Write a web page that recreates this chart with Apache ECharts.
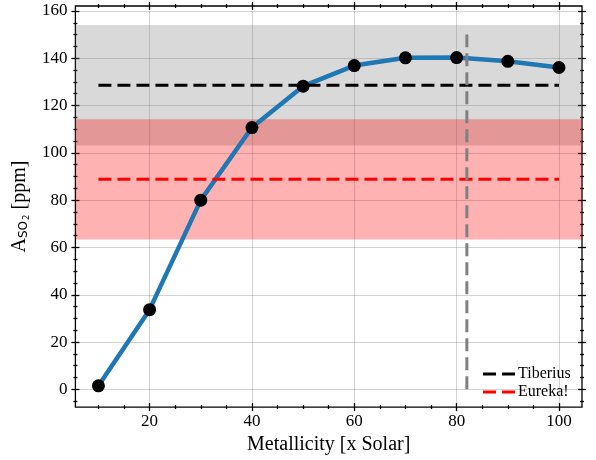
<!DOCTYPE html>
<html>
<head>
<meta charset="utf-8">
<script src="https://cdn.jsdelivr.net/npm/echarts@6/dist/echarts.min.js"></script>
<style>
  html, body { margin: 0; padding: 0; background: #fff; }
  #chart { width: 596px; height: 460px; }
</style>
</head>
<body>
<div id="chart"></div>
<script>
// Modelled SO2 abundance versus atmospheric metallicity
const metallicity = [10, 20, 30, 40, 50, 60, 70, 80, 90, 100];
const so2Abundance = [1.5, 33.7, 80.0, 110.7, 128.2, 136.9, 140.2, 140.3, 138.7, 136.1];

// Retrieved abundances from the two reductions (level and 1-sigma width)
const fitNames = ['Tiberius', 'Eureka!'];
const fitLevels = [128.6, 88.8];
const fitErrors = [25.5, 25.4];
const fitSpan = [10, 100];

// Best-fitting metallicity marker
const bestMetallicity = 82;
const bestSpan = [0, 150];

// Axis ranges and ticks
const xRange = [5.5, 104.5];
const yRange = [-7.5, 162.1];
const xMajor = [20, 40, 60, 80, 100];
const xMinor = [10, 15, 25, 30, 35, 45, 50, 55, 65, 70, 75, 85, 90, 95];
const yMajor = [0, 20, 40, 60, 80, 100, 120, 140, 160];
const yMinor = [-5, 5, 10, 15, 25, 30, 35, 45, 50, 55, 65, 70, 75, 85, 90, 95,
                105, 110, 115, 125, 130, 135, 145, 150, 155];

const SERIF = 'Liberation Serif';
const TICK = { color: '#000', width: 1.3 };
const DASH = [13, 6];
// two dashes, as drawn in the legend key
const DASH_ICON = 'path://M0,0h13v3h-13z M19,0h13v3h-13z';

function tickAxis(kind, pos, values, major, extra) {
  const range = kind === 'x' ? xRange : yRange;
  return Object.assign({
    type: 'value',
    position: pos,
    min: range[0],
    max: range[1],
    offset: major ? 4 : 2,
    axisLine: { show: false, onZero: false },
    axisTick: { show: true, inside: true, length: major ? 8 : 4, customValues: values, lineStyle: TICK },
    axisLabel: { show: false },
    splitLine: { show: false }
  }, extra || {});
}

const chart = echarts.init(document.getElementById('chart'), null, { renderer: 'canvas' });

const series = [];

// shaded 1-sigma bands, grey first and red on top
const bandColors = ['rgba(128,128,128,0.3)', 'rgba(255,0,0,0.3)'];
fitNames.forEach((name, i) => {
  series.push({
    name: name + ' band',
    type: 'line',
    data: [],
    z: 1,
    markArea: {
      silent: true,
      itemStyle: { color: bandColors[i], borderWidth: 0 },
      data: [[{ yAxis: fitLevels[i] - fitErrors[i] }, { yAxis: fitLevels[i] + fitErrors[i] }]]
    }
  });
});

// model curve
series.push({
  name: 'model',
  type: 'line',
  data: metallicity.map((m, i) => [m, so2Abundance[i]]),
  symbol: 'none',
  lineStyle: { color: '#1f77b4', width: 4.5 },
  z: 2
});

// retrieved levels
const fitLineColors = ['#000000', '#ff0000'];
fitNames.forEach((name, i) => {
  series.push({
    name: name,
    type: 'line',
    data: fitSpan.map(x => [x, fitLevels[i]]),
    symbol: 'none',
    itemStyle: { color: fitLineColors[i] },
    lineStyle: { color: fitLineColors[i], width: 3, type: DASH },
    z: 3
  });
});

// best metallicity
series.push({
  name: 'best',
  type: 'line',
  data: bestSpan.map(y => [bestMetallicity, y]),
  symbol: 'none',
  lineStyle: { color: '#808080', width: 3, type: DASH },
  z: 4
});

// model grid points
series.push({
  name: 'points',
  type: 'scatter',
  data: metallicity.map((m, i) => [m, so2Abundance[i]]),
  symbol: 'circle',
  symbolSize: 13,
  itemStyle: { color: '#000', opacity: 1 },
  z: 5
});

const gridLine = { show: true, lineStyle: { color: 'rgba(128,128,128,0.35)', width: 1 } };

const option = {
  animation: false,
  backgroundColor: '#fff',
  grid: {
    left: 73, right: 14, top: 6, bottom: 48.7,
    show: true, borderColor: '#000', borderWidth: 1.3, backgroundColor: 'transparent'
  },
  legend: {
    data: fitNames.map(n => ({ name: n, icon: DASH_ICON })),
    orient: 'vertical',
    left: 483,
    top: 366,
    padding: 0,
    itemWidth: 32,
    itemHeight: 3,
    itemGap: 2,
    itemStyle: { borderWidth: 0 },
    textStyle: { fontFamily: SERIF, fontSize: 16, color: '#000', lineHeight: 16, padding: [0, 0, 0, -2] },
    selectedMode: false
  },
  xAxis: [
    tickAxis('x', 'bottom', xMajor, true, {
      axisLabel: { show: true, customValues: xMajor, margin: 2, fontFamily: SERIF, fontSize: 17, color: '#000' },
      splitLine: gridLine,
      name: 'Metallicity [x Solar]',
      nameLocation: 'middle',
      nameGap: 13,
      nameTextStyle: { fontFamily: SERIF, fontSize: 20, color: '#000' }
    }),
    tickAxis('x', 'bottom', xMinor, false),
    tickAxis('x', 'top', xMajor, true),
    tickAxis('x', 'top', xMinor, false)
  ],
  yAxis: [
    tickAxis('y', 'left', yMajor, true, {
      axisLabel: { show: true, customValues: yMajor, margin: 4, fontFamily: SERIF, fontSize: 17, color: '#000' },
      splitLine: gridLine,
      name: '{a|A}{so|SO}{two|2}{a| [ppm]}',
      nameLocation: 'middle',
      nameRotate: 90,
      nameGap: 28,
      nameTextStyle: {
        fontFamily: SERIF, fontSize: 20, color: '#000',
        rich: {
          a: { fontFamily: SERIF, fontSize: 20, color: '#000', lineHeight: 22 },
          so: { fontFamily: 'DejaVu Sans', fontSize: 12, color: '#000', lineHeight: 12, padding: [9, 0, 0, 0] },
          two: { fontFamily: 'DejaVu Sans', fontSize: 8.5, color: '#000', lineHeight: 9, padding: [14, 0, 0, 1] }
        }
      }
    }),
    tickAxis('y', 'left', yMinor, false),
    tickAxis('y', 'right', yMajor, true),
    tickAxis('y', 'right', yMinor, false)
  ],
  series: series
};

chart.setOption(option);
</script>
</body>
</html>
